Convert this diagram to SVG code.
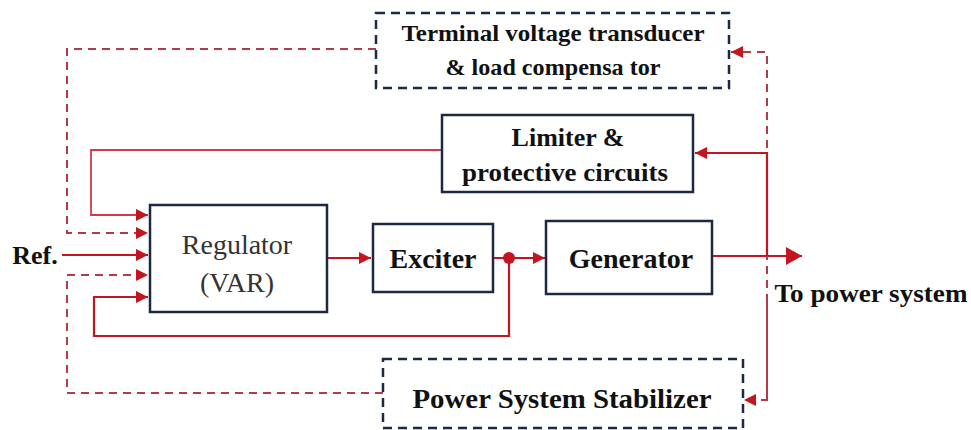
<svg xmlns="http://www.w3.org/2000/svg" width="971" height="430" viewBox="0 0 971 430">
<defs>
<style>
.box{fill:#fff;stroke:#1d2845;stroke-width:2.5}
.dbox{fill:#fff;stroke:#1d2845;stroke-width:2.5;stroke-dasharray:9 6}
.t{font-family:"Liberation Serif","Times New Roman",serif;font-weight:bold;fill:#111;text-anchor:middle}
.tn{font-family:"Liberation Serif","Times New Roman",serif;fill:#333;text-anchor:middle}
.s{fill:none;stroke:#c4141f;stroke-width:2.2}
.s2{fill:none;stroke:#d3394a;stroke-width:1.8}
.d{fill:none;stroke:#b23a4a;stroke-width:2;stroke-dasharray:8 6}
</style>
<marker id="ah" viewBox="0 0 12 12" refX="12" refY="6" markerWidth="12" markerHeight="12" markerUnits="userSpaceOnUse" orient="auto">
<path d="M0,0 L12,6 L0,12 Z" fill="#c4141f"/>
</marker>
<marker id="ahb" viewBox="0 0 16 18" refX="16" refY="9" markerWidth="16" markerHeight="18" markerUnits="userSpaceOnUse" orient="auto">
<path d="M0,0 L16,9 L0,18 Z" fill="#c4141f"/>
</marker>
</defs>
<rect width="971" height="430" fill="#fff"/>

<g id="connectors">
<path class="d" d="M376,49 H67 V233 H148" marker-end="url(#ah)"/>
<path class="s2" d="M442,150 H91 V215 H148" marker-end="url(#ah)"/>
<path class="s" d="M62,255 H148" marker-end="url(#ah)"/>
<path class="d" d="M383,393 H67 V275 H148" marker-end="url(#ah)"/>
<path class="s" d="M509,258 V336 H94 V297 H148" marker-end="url(#ah)"/>
<path class="s" d="M327,258 H371" marker-end="url(#ah)"/>
<path class="s" d="M493,258 H545" marker-end="url(#ah)"/>
<circle cx="509" cy="258" r="6" fill="#c4141f"/>
<path class="s" d="M712,256 H802" marker-end="url(#ahb)"/>
<path class="d" d="M767,400 V52 H731" marker-end="url(#ah)"/>
<path class="s" d="M767,256 V153 H695" marker-end="url(#ah)"/>
<path class="d" d="M767,300 V400 H744" marker-end="url(#ah)"/>
</g>

<g id="terminal">
<rect class="dbox" x="376" y="13" width="353" height="75" fill-opacity="0.9"/>
<text class="t" x="553" y="41" font-size="24" textLength="303" lengthAdjust="spacingAndGlyphs">Terminal voltage transducer</text>
<text class="t" x="553" y="75" font-size="24" textLength="215" lengthAdjust="spacingAndGlyphs">&amp; load compensa tor</text>
</g>

<g id="limiter">
<rect class="box" x="442" y="115" width="251" height="77"/>
<text class="t" x="568" y="146" font-size="26">Limiter &amp;</text>
<text class="t" x="565" y="181" font-size="26" textLength="206" lengthAdjust="spacingAndGlyphs">protective circuits</text>
</g>

<g id="regulator">
<rect class="box" x="150" y="205" width="177" height="107"/>
<text class="tn" x="237" y="254" font-size="28">Regulator</text>
<text class="tn" x="237" y="292" font-size="28">(VAR)</text>
</g>

<g id="exciter">
<rect class="box" x="373" y="224" width="120" height="68"/>
<text class="t" x="433" y="268" font-size="28">Exciter</text>
</g>

<g id="generator">
<rect class="box" x="546" y="221" width="166" height="73"/>
<text class="t" x="631" y="268" font-size="28" fill="#222">Generator</text>
</g>

<g id="pss">
<rect class="dbox" x="383" y="359" width="360" height="69"/>
<text class="t" x="562" y="408" font-size="27" textLength="299" lengthAdjust="spacingAndGlyphs">Power System Stabilizer</text>
</g>

<g id="labels">
<text class="t" x="35" y="264" font-size="26">Ref.</text>
<text class="t" x="871" y="302" font-size="26" textLength="193" lengthAdjust="spacingAndGlyphs">To power system</text>
</g>
</svg>
